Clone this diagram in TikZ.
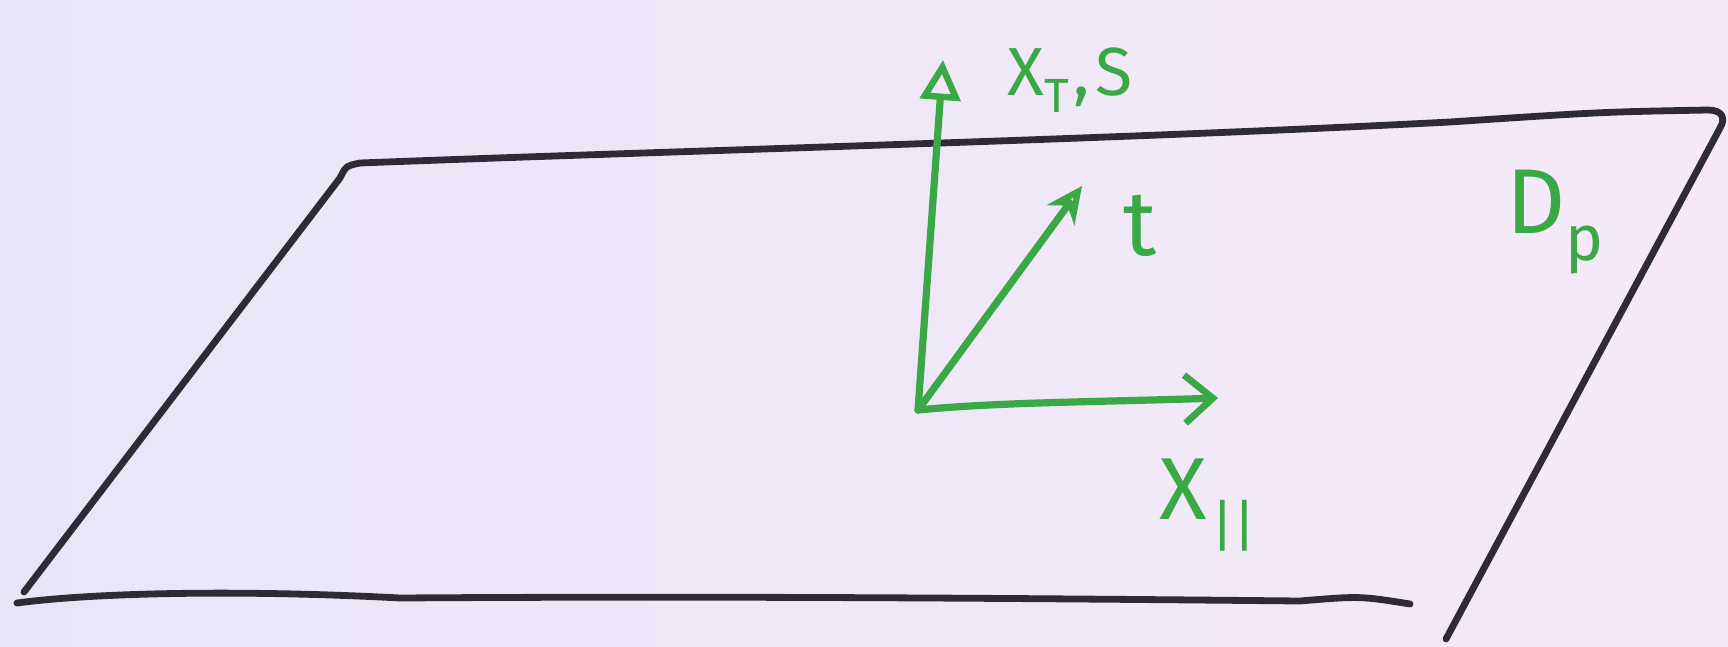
\documentclass[tikz,border=0pt]{standalone}
\usepackage{fontspec}
\setmainfont{Fira Sans}
\usetikzlibrary{arrows.meta}
\definecolor{bgL}{HTML}{E9E5F8}
\definecolor{bgR}{HTML}{F5E9F8}
\definecolor{pen}{HTML}{2E2B36}
\definecolor{ink}{HTML}{3AA844}
\tikzset{
  plane/.style={draw=pen,line width=3.4pt,line cap=round,line join=round},
  axis/.style={draw=ink,line width=3.6pt,line cap=round,line join=round},
  lbl/.style={text=ink,inner sep=0pt,font=\fontsize{24}{28}\selectfont}
}
\begin{document}
\begin{tikzpicture}[x=0.5pt,y=-0.5pt]
\useasboundingbox (0,0) rectangle (1728,647);
\shade[left color=bgL,right color=bgR] (0,0) rectangle (1728,647);
% plane (parallelogram)
\coordinate (TL) at (350,163);
\coordinate (TR) at (1708,110);
\coordinate (BL) at (24,592);
\coordinate (BR) at (1446,639);
\draw[plane] (BL) -- (340,178) .. controls (346,166) .. (360,163)
  .. controls (700,150) and (1100,140) .. (1450,122)
  .. controls (1600,112) .. (TR) .. controls (1722,110) and (1726,118) .. (1720,128)
  -- (BR);
\draw[plane] (17,603) .. controls (100,592) and (250,590) .. (400,598)
  .. controls (700,596) and (1000,598) .. (1300,601)
  .. controls (1360,596) .. (1410,604);
% axes
\coordinate (O) at (918,410);
\coordinate (V) at (943,60);
\coordinate (D) at (1082,186);
\coordinate (H) at (1218,398);
\draw[axis,-{Triangle[open,length=20pt,width=20pt,line width=3.2pt]}] (O) -- (V);
\draw[axis,-{Stealth[open,length=18pt,width=17pt,line width=3.2pt]}] (O) -- (D);
\draw[axis,-{Straight Barb[length=14pt,width=24pt,line width=3.4pt]}] (O) .. controls (1000,402) and (1100,402) .. (H);
% labels
\node[lbl] (xts) at (1070,80) {\fontsize{34}{36}\selectfont X\raisebox{-0.25em}{\fontsize{24}{26}\selectfont T}\kern2pt,\kern3pt S};
\node[lbl] (t) at (1140,226) {\fontsize{46}{48}\selectfont t};
\node[lbl] (xpar) at (1208,505) {\fontsize{44}{46}\selectfont X\kern2pt\raisebox{-0.3em}{\fontsize{28}{30}\selectfont ||}};
\node[lbl] (dp) at (1555,222) {\fontsize{46}{48}\selectfont D\raisebox{-0.3em}{\fontsize{32}{34}\selectfont p}};
\end{tikzpicture}
\end{document}
